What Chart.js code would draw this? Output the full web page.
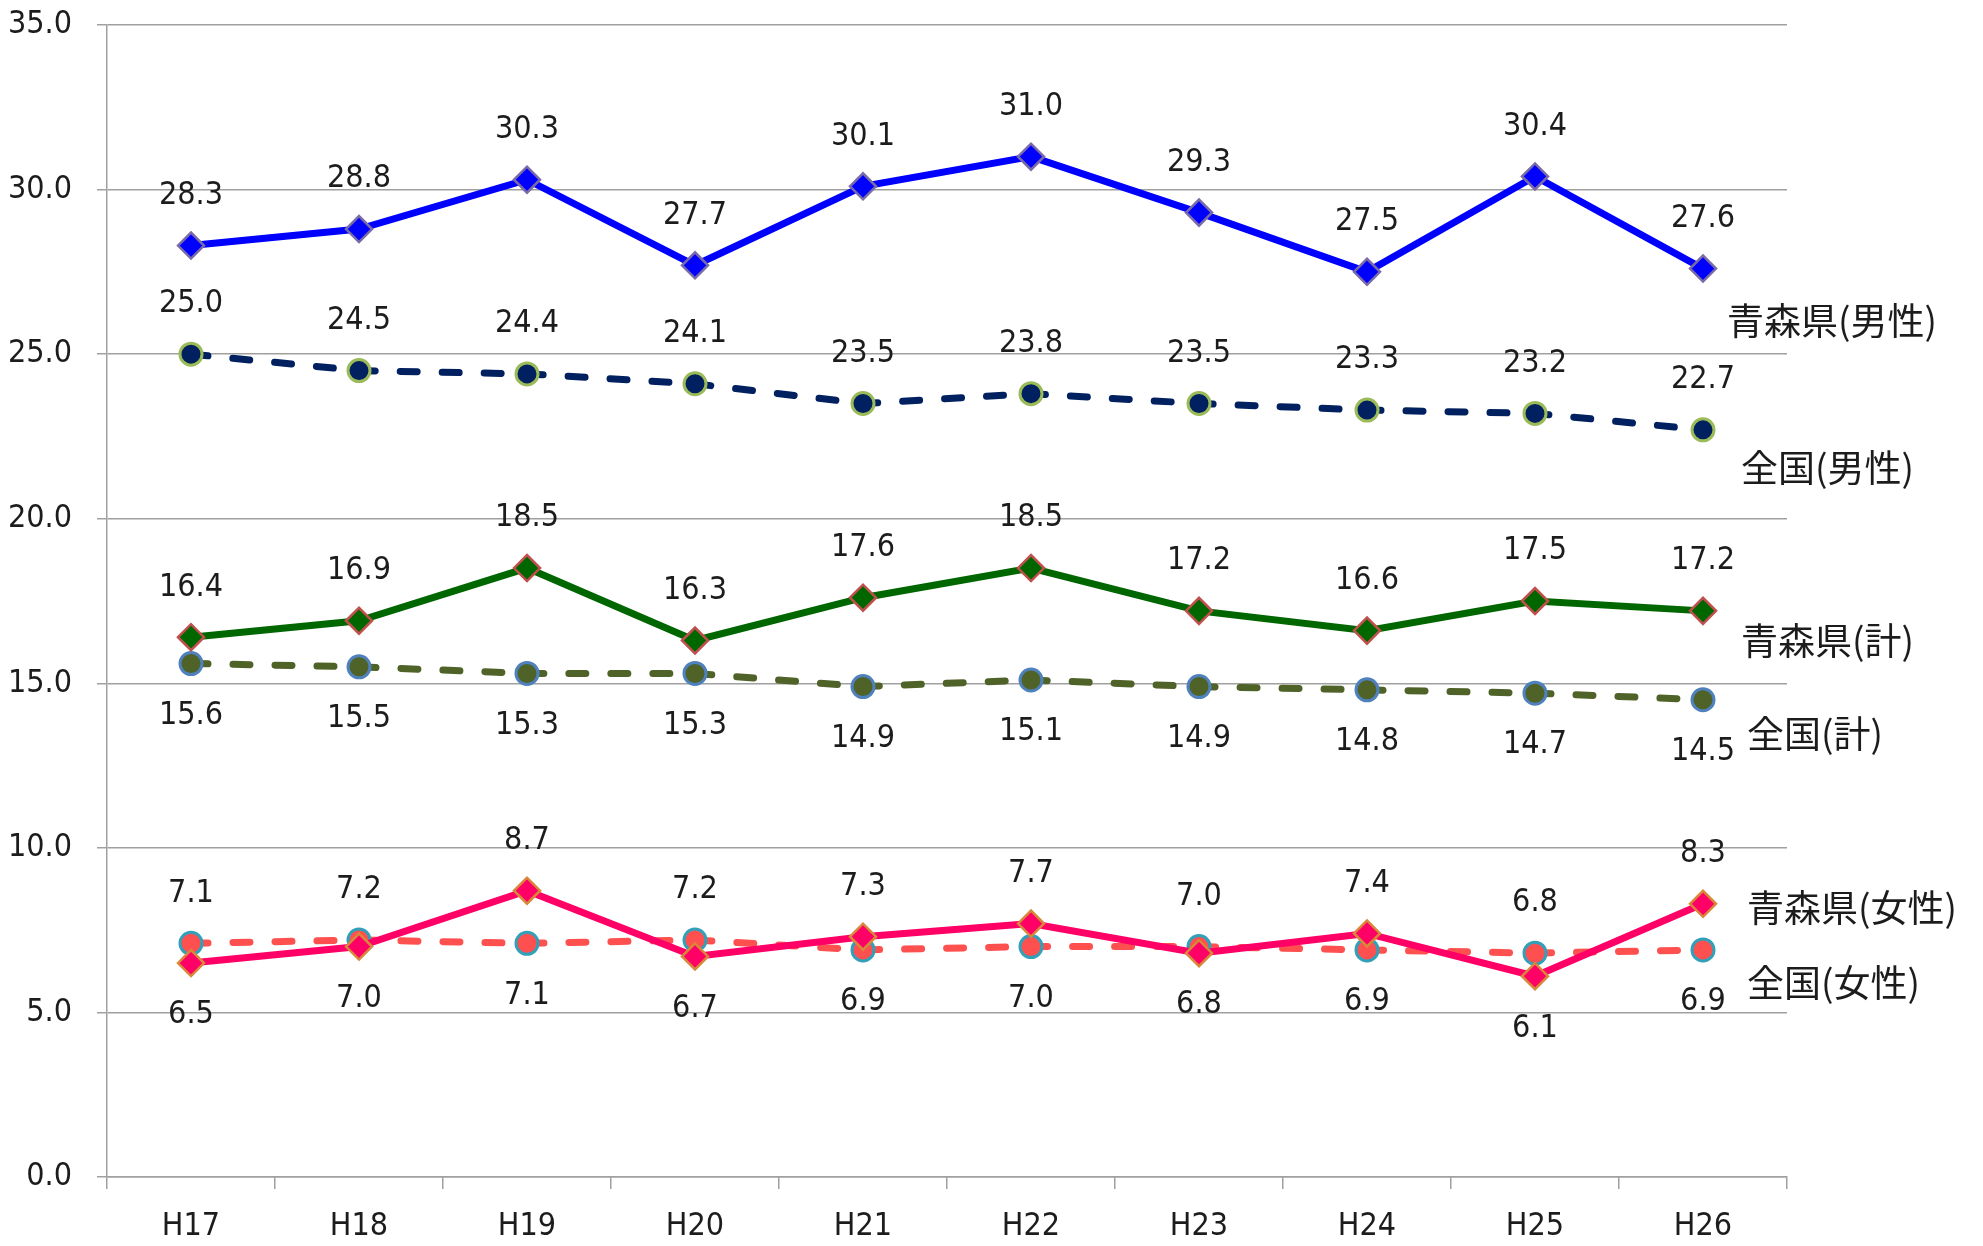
<!DOCTYPE html>
<html>
<head>
<meta charset="utf-8">
<script src="https://cdn.jsdelivr.net/npm/chart.js@4/dist/chart.umd.min.js"></script>
<style>
  body { margin: 0; background: #fff; }
  #wrap { width: 1983px; height: 1246px; position: relative; }
</style>
</head>
<body>
<div id="wrap"><canvas id="chart"></canvas></div>
<script>
// data
const years = ['H17', 'H18', 'H19', 'H20', 'H21', 'H22', 'H23', 'H24', 'H25', 'H26'];
const seriesNames = ['青森県(男性)', '全国(男性)', '青森県(計)', '全国(計)', '青森県(女性)', '全国(女性)'];
const aomoriMale = [28.3, 28.8, 30.3, 27.7, 30.1, 31.0, 29.3, 27.5, 30.4, 27.6];
const nationalMale = [25.0, 24.5, 24.4, 24.1, 23.5, 23.8, 23.5, 23.3, 23.2, 22.7];
const aomoriTotal = [16.4, 16.9, 18.5, 16.3, 17.6, 18.5, 17.2, 16.6, 17.5, 17.2];
const nationalTotal = [15.6, 15.5, 15.3, 15.3, 14.9, 15.1, 14.9, 14.8, 14.7, 14.5];
const aomoriFemale = [6.5, 7.0, 8.7, 6.7, 7.3, 7.7, 6.8, 7.4, 6.1, 8.3];
const nationalFemale = [7.1, 7.2, 7.1, 7.2, 6.9, 7.0, 7.0, 6.9, 6.8, 6.9];
const yMin = 0, yMax = 35, yStep = 5;

const numFont = "'Liberation Sans Narrow', 'DejaVu Sans Condensed', sans-serif";
const jpFont = "'Noto Sans CJK JP', sans-serif";

// where the value labels and series names go
const labelSide = ['above', 'above', 'above', 'below', 5, 4];   // number = compare with that series
const nameOffset = [[24, 52], [38, 38], [38, 30], [44, 34], [44, 4], [44, 33]];

function solid(label, data, line, fill, edge) {
  return {
    label, data,
    borderColor: line, borderWidth: 7,
    pointStyle: 'rectRot', pointRadius: 13,
    pointBackgroundColor: fill, pointBorderColor: edge, pointBorderWidth: 2.5
  };
}
function dashed(label, data, line, fill, edge) {
  return {
    label, data,
    borderColor: line, borderWidth: 7,
    borderDash: [17, 25], borderCapStyle: 'round',
    pointStyle: 'circle', pointRadius: 11,
    pointBackgroundColor: fill, pointBorderColor: edge, pointBorderWidth: 3
  };
}

const labelsPlugin = {
  id: 'valueLabels',
  afterDatasetsDraw(chart) {
    const ctx = chart.ctx;
    const sets = chart.data.datasets;
    ctx.save();
    ctx.fillStyle = '#1c1c1c';
    sets.forEach((ds, i) => {
      const pts = chart.getDatasetMeta(i).data;
      ctx.font = '32px ' + numFont;
      ctx.textAlign = 'center';
      ctx.textBaseline = 'middle';
      pts.forEach((pt, j) => {
        let side = labelSide[i];
        if (typeof side === 'number') {
          side = ds.data[j] > sets[side].data[j] ? 'above' : 'below';
        }
        const dy = side === 'above' ? -50 : 52;
        ctx.fillText(ds.data[j].toFixed(1), pt.x, pt.y + dy);
      });
      const last = pts[pts.length - 1];
      ctx.font = '37px ' + jpFont;
      ctx.textAlign = 'left';
      ctx.fillText(ds.label, last.x + nameOffset[i][0], last.y + nameOffset[i][1]);
    });
    ctx.restore();
  }
};

new Chart(document.getElementById('chart'), {
  type: 'line',
  data: {
    labels: years,
    datasets: [
      solid(seriesNames[0], aomoriMale, '#0000ff', '#0000ff', '#7a6aa8'),
      dashed(seriesNames[1], nationalMale, '#002060', '#002060', '#9bbb59'),
      solid(seriesNames[2], aomoriTotal, '#006600', '#006600', '#c0504d'),
      dashed(seriesNames[3], nationalTotal, '#4f6228', '#4f6228', '#4f81bd'),
      solid(seriesNames[4], aomoriFemale, '#ff0066', '#ff0066', '#d9883a'),
      dashed(seriesNames[5], nationalFemale, '#ff5050', '#ff5050', '#31a0b8')
    ]
  },
  options: {
    responsive: true,
    maintainAspectRatio: false,
    animation: false,
    layout: { padding: { top: 25, right: 196, bottom: 0, left: 0 } },
    plugins: { legend: { display: false }, tooltip: { enabled: false } },
    scales: {
      x: {
        offset: true,
        grid: { offset: true, drawOnChartArea: false, drawTicks: true, tickLength: 12, color: '#a0a0a0', lineWidth: 1.5 },
        border: { color: '#a0a0a0', width: 1.5 },
        ticks: { font: { family: numFont, size: 32 }, color: '#1c1c1c', padding: 18 },
        afterFit(scale) { scale.height = 69; scale.paddingLeft = 0; scale.paddingRight = 0; }
      },
      y: {
        min: yMin, max: yMax,
        grid: { color: '#a0a0a0', lineWidth: 1.5, tickLength: 10 },
        border: { color: '#a0a0a0', width: 1.5 },
        ticks: {
          stepSize: yStep,
          font: { family: numFont, size: 32 }, color: '#1c1c1c', padding: 25,
          callback: v => v.toFixed(1)
        },
        afterFit(scale) { scale.width = 107; scale.paddingTop = 0; scale.paddingBottom = 0; }
      }
    }
  },
  plugins: [labelsPlugin]
});
</script>
</body>
</html>
